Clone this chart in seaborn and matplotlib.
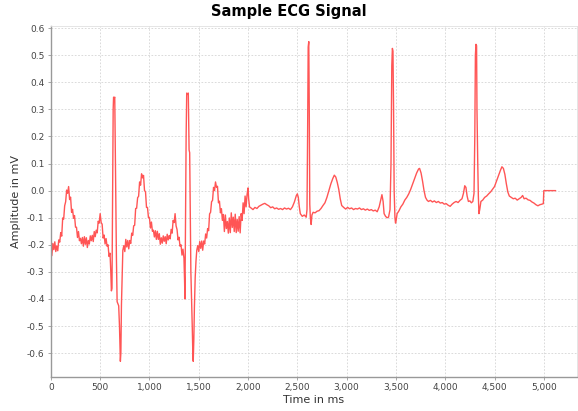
import matplotlib
matplotlib.use("Agg")
import matplotlib.pyplot as plt
import matplotlib.ticker as mticker
import numpy as np
import pandas as pd
import seaborn as sns

# ECG trace, (time in ms, amplitude in mV)
noisy_start = [
    (0, -0.218), (10, -0.24), (20, -0.195), (30, -0.218), (40, -0.189), (50, -0.225),
    (60, -0.204), (70, -0.222), (80, -0.182), (90, -0.19), (100, -0.155), (110, -0.168),
    (120, -0.101), (130, -0.105), (140, -0.056), (150, -0.041), (160, 0.002), (170, -0.01),
    (180, 0.015), (190, -0.033), (200, -0.024), (210, -0.08), (220, -0.069), (230, -0.102),
    (240, -0.092), (250, -0.135), (260, -0.135), (270, -0.173), (280, -0.151), (290, -0.185),
    (300, -0.176), (310, -0.196), (320, -0.173), (330, -0.205), (340, -0.17), (350, -0.198),
    (360, -0.174), (370, -0.21), (380, -0.184), (390, -0.197), (400, -0.167), (410, -0.185),
    (420, -0.165), (430, -0.188), (440, -0.151), (450, -0.17), (460, -0.146), (470, -0.156),
    (480, -0.113), (490, -0.12), (500, -0.085), (510, -0.118), (520, -0.124), (530, -0.175),
    (540, -0.164), (550, -0.197), (560, -0.177), (570, -0.205), (580, -0.2), (590, -0.243),
    (600, -0.231), (608, -0.3), (614, -0.37),
]
beat_1 = [
    (620, -0.36), (626, -0.05), (632, 0.3), (636, 0.345), (642, 0.34), (648, 0.345),
    (652, 0.2), (658, 0.0), (665, -0.25), (672, -0.41), (688, -0.425), (696, -0.5),
    (705, -0.63), (710, -0.6), (716, -0.42), (724, -0.3), (730, -0.22),
]
noisy_mid = [
    (740, -0.203), (750, -0.225), (760, -0.18), (770, -0.208), (780, -0.184), (790, -0.215),
    (800, -0.184), (810, -0.195), (820, -0.157), (830, -0.165), (840, -0.13), (850, -0.128),
    (860, -0.066), (870, -0.065), (880, -0.026), (890, -0.021), (900, 0.032), (910, 0.02),
    (920, 0.062), (930, 0.047), (940, 0.056), (950, 0.0), (960, -0.004), (970, -0.062),
    (980, -0.062), (990, -0.1), (1000, -0.1), (1010, -0.138), (1020, -0.116), (1030, -0.15),
    (1040, -0.146), (1050, -0.171), (1060, -0.148), (1070, -0.18), (1080, -0.15), (1090, -0.18),
    (1100, -0.159), (1110, -0.198), (1120, -0.174), (1130, -0.194), (1140, -0.167), (1150, -0.187),
    (1160, -0.17), (1170, -0.196), (1180, -0.161), (1190, -0.182), (1200, -0.166), (1210, -0.178),
    (1220, -0.143), (1230, -0.157), (1240, -0.11), (1250, -0.118), (1260, -0.085), (1270, -0.13),
    (1280, -0.144), (1290, -0.182), (1300, -0.172), (1310, -0.205), (1320, -0.2), (1330, -0.238),
    (1340, -0.216), (1350, -0.25), (1356, -0.33), (1360, -0.4),
]
beat_2 = [
    (1366, -0.1), (1372, 0.2), (1378, 0.36), (1386, 0.355), (1394, 0.36), (1398, 0.25),
    (1402, 0.15), (1408, 0.14), (1414, -0.1), (1420, -0.3), (1428, -0.41), (1434, -0.5),
    (1440, -0.6), (1444, -0.63), (1450, -0.55), (1456, -0.43), (1464, -0.32), (1472, -0.26),
    (1480, -0.22),
]
noisy_end = [
    (1490, -0.203), (1500, -0.225), (1510, -0.188), (1520, -0.213), (1530, -0.186), (1540, -0.22),
    (1550, -0.186), (1560, -0.197), (1570, -0.16), (1580, -0.175), (1590, -0.14), (1600, -0.148),
    (1610, -0.086), (1620, -0.08), (1630, -0.041), (1640, -0.036), (1650, 0.012), (1660, 0.0),
    (1670, 0.032), (1680, 0.012), (1690, 0.016), (1700, -0.045), (1710, -0.039), (1720, -0.082),
    (1730, -0.067), (1740, -0.11), (1750, -0.088), (1760, -0.151), (1770, -0.09), (1780, -0.14),
    (1790, -0.114), (1800, -0.157), (1810, -0.101), (1820, -0.155), (1830, -0.082), (1840, -0.136),
    (1850, -0.098), (1860, -0.151), (1870, -0.087), (1880, -0.155), (1890, -0.106), (1900, -0.15),
    (1910, -0.096), (1920, -0.156), (1930, -0.085), (1940, -0.11), (1950, -0.045), (1960, -0.085),
    (1970, -0.02), (1980, -0.06), (1990, -0.015), (2000, 0.01), (2006, -0.03), (2015, -0.06),
]
clean_a = [
    (2030, -0.064), (2050, -0.07), (2070, -0.062), (2090, -0.066), (2110, -0.058), (2130, -0.054),
    (2150, -0.05), (2170, -0.047), (2190, -0.052), (2210, -0.056), (2230, -0.063), (2250, -0.06),
    (2270, -0.067), (2290, -0.064), (2310, -0.069), (2330, -0.066), (2350, -0.07), (2370, -0.064),
    (2390, -0.068), (2410, -0.065), (2430, -0.07), (2450, -0.06), (2470, -0.042), (2490, -0.018),
    (2500, -0.012), (2510, -0.025), (2520, -0.06), (2530, -0.085), (2550, -0.095), (2570, -0.09),
    (2590, -0.098), (2598, -0.07),
]
beat_3 = [
    (2604, 0.2), (2610, 0.53), (2616, 0.55), (2621, 0.3), (2626, -0.05), (2632, -0.1),
    (2640, -0.125), (2648, -0.09), (2660, -0.08), (2680, -0.082), (2700, -0.076), (2720, -0.074),
    (2740, -0.066), (2760, -0.055), (2780, -0.045), (2800, -0.025), (2820, 0.0), (2840, 0.025),
    (2860, 0.045), (2875, 0.057), (2890, 0.05), (2905, 0.03), (2920, 0.005), (2935, -0.03),
    (2950, -0.055), (2970, -0.062), (2990, -0.068), (3010, -0.062), (3030, -0.067), (3050, -0.064),
    (3070, -0.07), (3090, -0.066), (3110, -0.068), (3130, -0.064), (3150, -0.07), (3170, -0.067),
    (3190, -0.072), (3210, -0.068), (3230, -0.073), (3250, -0.07), (3270, -0.075), (3290, -0.072),
    (3310, -0.078), (3330, -0.06), (3345, -0.035), (3358, -0.015), (3370, -0.04), (3380, -0.085),
    (3395, -0.095), (3410, -0.1), (3425, -0.098), (3440, -0.07),
]
beat_4 = [
    (3450, 0.1), (3458, 0.46), (3464, 0.525), (3470, 0.515), (3476, 0.3), (3482, 0.0),
    (3490, -0.1), (3496, -0.12), (3502, -0.11), (3512, -0.085), (3530, -0.075), (3550, -0.06),
    (3570, -0.05), (3590, -0.035), (3610, -0.025), (3630, -0.012), (3650, 0.005), (3670, 0.025),
    (3690, 0.045), (3710, 0.065), (3730, 0.08), (3740, 0.082), (3755, 0.065), (3770, 0.035),
    (3785, 0.0), (3800, -0.025), (3815, -0.035), (3830, -0.04), (3850, -0.036), (3870, -0.042),
    (3890, -0.038), (3910, -0.044), (3930, -0.04), (3950, -0.046), (3970, -0.044), (3990, -0.05),
    (4010, -0.048), (4030, -0.054), (4050, -0.058), (4070, -0.05), (4090, -0.044), (4110, -0.04),
    (4130, -0.044), (4150, -0.036), (4170, -0.03), (4185, -0.01), (4198, 0.018), (4210, 0.012),
    (4222, -0.02), (4235, -0.04), (4250, -0.038), (4265, -0.045), (4280, -0.04), (4292, -0.01),
]
beat_5 = [
    (4300, 0.2), (4306, 0.5), (4312, 0.54), (4318, 0.535), (4322, 0.3), (4330, 0.1),
    (4336, -0.02), (4342, -0.085), (4350, -0.07), (4362, -0.04), (4380, -0.035), (4400, -0.025),
    (4420, -0.02), (4440, -0.012), (4460, -0.005), (4480, 0.005), (4500, 0.015), (4520, 0.035),
    (4540, 0.055), (4560, 0.075), (4575, 0.088), (4590, 0.082), (4605, 0.06), (4620, 0.025),
    (4635, -0.005), (4650, -0.02), (4670, -0.025), (4690, -0.03), (4710, -0.028), (4730, -0.035),
    (4750, -0.03), (4770, -0.025), (4785, -0.018), (4800, -0.03), (4820, -0.028), (4840, -0.034),
    (4860, -0.036), (4880, -0.042), (4900, -0.046), (4920, -0.052), (4940, -0.056), (4960, -0.052),
    (4980, -0.05), (4995, -0.048),
]
padding = [(5000, 0.0), (5120, 0.0)]

segments = [noisy_start, beat_1, noisy_mid, beat_2, noisy_end, clean_a, beat_3, beat_4, beat_5, padding]
rows = [p for seg in segments for p in seg]
df = pd.DataFrame(rows, columns=["time", "amp"])

sns.set_theme(style="white")
plt.rcParams["font.family"] = ["DejaVu Sans"]

fig = plt.figure(figsize=(5.78, 4.11), dpi=100)
ax = fig.add_axes([0.088, 0.083, 0.91, 0.854])

sns.lineplot(data=df, x="time", y="amp", estimator=None, sort=False,
             color="#ff5555", linewidth=1.0, ax=ax)

ax.set_xlim(0, 5335)
ax.set_ylim(-0.6875, 0.608)
ax.xaxis.set_major_locator(mticker.MultipleLocator(500))
ax.yaxis.set_major_locator(mticker.MultipleLocator(0.1))
ax.xaxis.set_major_formatter(mticker.FuncFormatter(lambda v, p: f"{int(v):,}"))
ax.yaxis.set_major_formatter(mticker.FuncFormatter(lambda v, p: f"{v:.1f}"))

ax.grid(True, color="#d4d4d4", linestyle=(0, (2, 2)), linewidth=0.6)
for side in ["top", "right"]:
    ax.spines[side].set_color("#e0e0e0")
    ax.spines[side].set_linewidth(0.6)
for side in ["left", "bottom"]:
    ax.spines[side].set_color("#999999")
    ax.spines[side].set_linewidth(1.0)
ax.tick_params(axis="both", which="major", direction="out", length=2.5, width=0.6,
               color="#999999", labelsize=6.5, labelcolor="#444444", pad=2)
ax.tick_params(bottom=True, left=True)

ax.set_xlabel("Time in ms", fontsize=8, color="#333333", labelpad=2)
ax.set_ylabel("Amplitude in mV", fontsize=8, color="#333333", labelpad=4)
fig.suptitle("Sample ECG Signal", fontsize=10.5, fontweight="bold", color="black", y=0.99)

fig.savefig("out.png", dpi=100)
